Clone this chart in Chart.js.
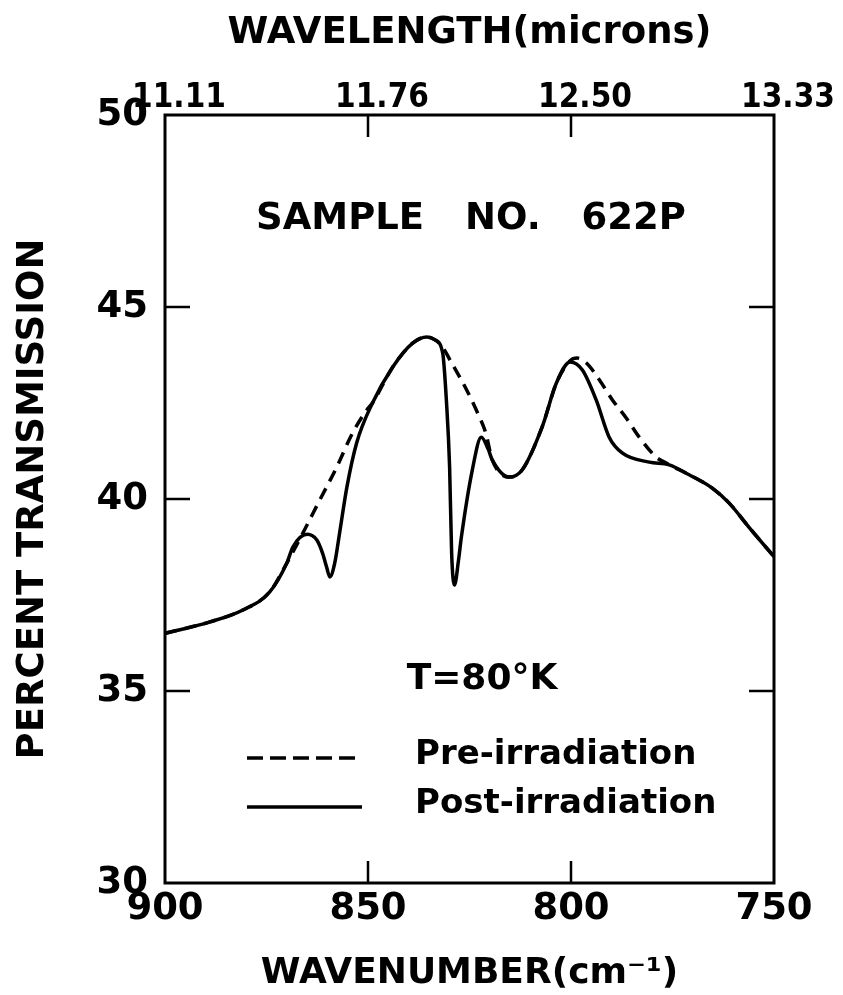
<!DOCTYPE html>
<html>
<head>
<meta charset="utf-8">
<title>Sample No. 622P transmission</title>
<script src="https://cdn.jsdelivr.net/npm/chart.js@4.4.1/dist/chart.umd.min.js"></script>
<style>
  html, body { margin: 0; padding: 0; background: #fff; }
  #wrap { width: 843px; height: 995px; position: relative; }
</style>
</head>
<body>
<div id="wrap"><canvas id="irChart"></canvas></div>
<script>
// wavenumber ticks (bottom) and matching wavelength labels (top)
const wavenumberTicks = [900, 850, 800, 750];
const wavelengthLabels = ["11.11", "11.76", "12.50", "13.33"];

// post-irradiation (solid) curve
const postWavenumber = [900, 888.9, 880.8, 874.2, 870.0, 868.5, 865.0, 862.6, 861.2, 860.2, 859.4, 858.2, 857.0, 855.2, 852.8, 848.9, 843.9, 839.0, 835.5, 833.6, 831.6, 830.7, 829.9, 829.4, 828.7, 827.7, 827.0, 824.3, 822.1, 820.4, 819.4, 815.2, 812.0, 807.1, 803.6, 800.2, 797.2, 793.8, 790.6, 787.4, 780.7, 775.8, 770.9, 765.3, 761.1, 756.2, 750];
const postTransmission = [36.5, 36.8, 37.11, 37.58, 38.33, 38.75, 39.08, 38.93, 38.59, 38.23, 37.97, 38.33, 39.11, 40.31, 41.46, 42.5, 43.44, 44.06, 44.22, 44.15, 43.8, 42.58, 40.83, 38.59, 37.76, 38.41, 39.01, 40.76, 41.61, 41.3, 41.02, 40.57, 40.76, 41.88, 43.02, 43.57, 43.36, 42.58, 41.61, 41.2, 40.96, 40.89, 40.63, 40.29, 39.9, 39.27, 38.5];

// pre-irradiation (dashed) curve
const preWavenumber = [900, 888.9, 880.8, 874.2, 870.0, 866.1, 861.9, 857.7, 853.8, 850.3, 848.9, 843.9, 839.0, 835.5, 833.6, 831.6, 829.7, 825.7, 823.0, 821.0, 819.4, 815.2, 812.0, 807.1, 803.6, 800.2, 798.5, 796.2, 793.0, 789.8, 786.4, 783.2, 779.0, 777.0, 775.8, 770.9, 765.3, 761.1, 756.2, 750];
const preTransmission = [36.5, 36.8, 37.11, 37.58, 38.33, 39.1, 39.97, 40.83, 41.72, 42.32, 42.5, 43.44, 44.06, 44.22, 44.15, 43.95, 43.6, 42.84, 42.24, 41.72, 41.02, 40.57, 40.76, 41.88, 43.02, 43.6, 43.67, 43.54, 43.1, 42.58, 42.11, 41.61, 41.09, 40.96, 40.89, 40.63, 40.29, 39.9, 39.27, 38.5];

const FONT = "'DejaVu Sans', sans-serif";
const NARROW = "'DejaVu Sans Condensed', 'DejaVu Sans', sans-serif";

const toPoints = (xs, ys) => xs.map((x, i) => ({ x: x, y: ys[i] }));

// frame, inward ticks and the in-plot texts
const framePlugin = {
  id: "frame",
  afterDraw(chart) {
    const ctx = chart.ctx;
    const a = chart.chartArea;
    const xs = chart.scales.x, ys = chart.scales.y;
    ctx.save();
    ctx.strokeStyle = "#000";
    ctx.lineWidth = 3;
    ctx.strokeRect(a.left, a.top, a.right - a.left, a.bottom - a.top);

    ctx.lineWidth = 2.5;
    ctx.beginPath();
    wavenumberTicks.forEach(v => {
      if (v === xs.min || v === xs.max) return;
      const px = xs.getPixelForValue(v);
      ctx.moveTo(px, a.bottom); ctx.lineTo(px, a.bottom - 22);
      ctx.moveTo(px, a.top); ctx.lineTo(px, a.top + 22);
    });
    ys.ticks.forEach(t => {
      if (t.value === ys.min || t.value === ys.max) return;
      const py = ys.getPixelForValue(t.value);
      ctx.moveTo(a.left, py); ctx.lineTo(a.left + 25, py);
      ctx.moveTo(a.right, py); ctx.lineTo(a.right - 25, py);
    });
    ctx.stroke();

    ctx.fillStyle = "#000";
    ctx.textBaseline = "middle";
    ctx.font = "bold 37px " + FONT;
    ctx.textAlign = "center";
    if ("wordSpacing" in ctx) ctx.wordSpacing = "28px";
    ctx.fillText("SAMPLE NO. 622P", 471, 219);
    if ("wordSpacing" in ctx) ctx.wordSpacing = "0px";
    ctx.font = "bold 36px " + FONT;
    ctx.fillText("T=80°K", 482, 680);

    // legend
    ctx.lineWidth = 3.5;
    ctx.setLineDash([16, 7]);
    ctx.beginPath(); ctx.moveTo(247, 758); ctx.lineTo(362, 758); ctx.stroke();
    ctx.setLineDash([]);
    ctx.beginPath(); ctx.moveTo(247, 807); ctx.lineTo(362, 807); ctx.stroke();
    ctx.font = "bold 34px " + FONT;
    ctx.textAlign = "left";
    ctx.fillText(chart.data.datasets[1].label, 415, 755);
    ctx.fillText(chart.data.datasets[0].label, 415, 804);
    ctx.restore();
  }
};

const tickFont = { family: FONT, size: 37, weight: "bold" };

new Chart(document.getElementById("irChart"), {
  type: "line",
  data: {
    datasets: [
      {
        label: "Post-irradiation",
        data: toPoints(postWavenumber, postTransmission),
        borderColor: "#000",
        borderWidth: 3.5,
        pointRadius: 0,
        cubicInterpolationMode: "monotone",
        fill: false
      },
      {
        label: "Pre-irradiation",
        data: toPoints(preWavenumber, preTransmission),
        borderColor: "#000",
        borderWidth: 3.5,
        borderDash: [12, 8],
        pointRadius: 0,
        cubicInterpolationMode: "monotone",
        fill: false
      }
    ]
  },
  options: {
    responsive: true,
    maintainAspectRatio: false,
    animation: false,
    layout: { padding: { left: 0, right: 69, top: 0, bottom: 0 } },
    plugins: { legend: { display: false }, tooltip: { enabled: false } },
    scales: {
      x: {
        type: "linear",
        position: "bottom",
        min: 750, max: 900,
        reverse: true,
        grid: { display: false, drawTicks: false },
        border: { display: false },
        ticks: { stepSize: 50, autoSkip: false, maxRotation: 0, padding: 4, color: "#000", font: tickFont },
        title: { display: true, text: "WAVENUMBER(cm⁻¹)", color: "#000", font: { family: FONT, size: 36, weight: "bold" }, padding: { top: 0, bottom: 0 } },
        afterFit(scale) { scale.height = 112; }
      },
      x2: {
        type: "linear",
        position: "top",
        min: 750, max: 900,
        reverse: true,
        grid: { display: false, drawTicks: false },
        border: { display: false },
        ticks: {
          stepSize: 50, autoSkip: false, maxRotation: 0, padding: -3, labelOffset: 14, color: "#000",
          font: { family: NARROW, size: 33, weight: "bold" },
          callback: v => wavelengthLabels[wavenumberTicks.indexOf(v)]
        },
        title: { display: true, text: "WAVELENGTH(microns)", color: "#000", font: { family: FONT, size: 37, weight: "bold" }, padding: { top: 11, bottom: 0 } },
        afterFit(scale) { scale.height = 115; }
      },
      y: {
        type: "linear",
        position: "left",
        min: 30, max: 50,
        grid: { display: false, drawTicks: false },
        border: { display: false },
        ticks: { stepSize: 5, padding: 17, color: "#000", font: tickFont },
        title: { display: true, text: "PERCENT TRANSMISSION", color: "#000", font: { family: FONT, size: 37, weight: "bold" }, padding: { top: 11, bottom: 0 } },
        afterFit(scale) { scale.width = 165; }
      }
    }
  },
  plugins: [framePlugin]
});
</script>
</body>
</html>
